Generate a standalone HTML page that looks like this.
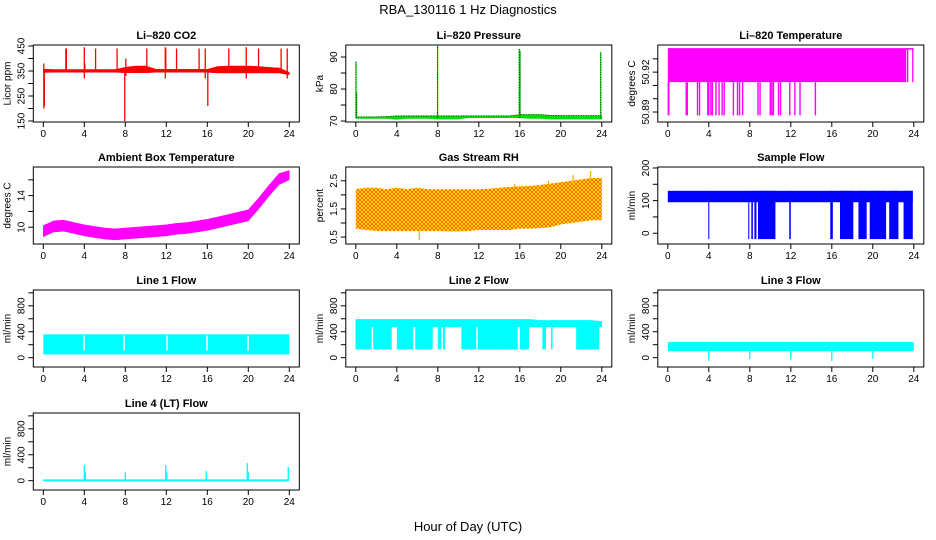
<!DOCTYPE html>
<html><head><meta charset="utf-8">
<style>
html,body{margin:0;padding:0;background:#fff;}
svg{display:block;font-family:"Liberation Sans",sans-serif;}
</style></head>
<body>
<svg id="chart" width="936" height="540" viewBox="0 0 936 540" xmlns="http://www.w3.org/2000/svg">
<defs>
<pattern id="rhpat" width="4" height="4" patternUnits="userSpaceOnUse">
<rect width="4" height="4" fill="#ffe000"/>
<path d="M0,0 L4,4 M4,0 L0,4" stroke="#ff3000" stroke-width="0.6"/>
</pattern>
</defs>
<text x="468" y="14" text-anchor="middle" font-size="13">RBA_130116  1 Hz Diagnostics</text>
<text x="468" y="531" text-anchor="middle" font-size="13">Hour of Day (UTC)</text>
</svg>
<script>
// ---------- data ----------
const hours = [0,1,2,3,4,5,6,7,8,9,10,11,12,13,14,15,16,17,18,19,20,21,22,23,24];
const xTicks = [0,4,8,12,16,20,24];

const co2Lo = [344,345,345,345,345,345,345,345,343,343,343,345,345,345,345,345,345,342,342,342,342,342,342,342,335];
const co2Hi = [358,356,356,356,356,356,356,356,365,370,370,357,357,357,357,357,357,368,370,370,370,368,365,362,345];
const co2SpikeT = [0.05,0.1,2.2,2.25,4.0,4.05,5.1,7.2,7.95,8.05,10.1,11.9,11.95,13.0,15.2,15.8,16.05,18.1,19.8,21.0,23.2,23.8];
const co2SpikeLo = [200,210,350,350,320,350,350,350,150,330,350,320,350,350,350,320,210,350,320,350,350,320];
const co2SpikeHi = [380,350,440,440,445,380,440,440,350,400,440,445,440,440,440,440,350,440,445,440,440,440];

const presLo = [70.8,70.8,70.8,70.8,70.5,70.8,70.8,70.8,70.6,70.6,70.6,71,71,71,71,71,71,70.8,70.8,70.6,70.6,70.6,70.6,70.6,70.6];
const presHi = [71.3,71.3,71.3,71.4,71.6,71.6,71.6,71.6,71.6,71.6,71.6,71.6,71.6,71.6,71.6,71.6,72.0,72.0,72.0,71.8,71.7,71.7,71.7,71.7,71.7];
const presSpikeT = [0.02,0.08,7.98,15.95,16.02,23.9];
const presSpikeHi = [88.5,79,93.5,92.5,92,91.5];

const tempTop = 50.9375, tempMid = 50.9125, tempLow = 50.8875;
const tempDropT = [0.05,0.1,1.8,1.9,2.9,3.1,3.9,4.0,4.2,4.35,4.7,5.0,5.3,5.5,6.4,6.8,7.0,7.3,8.8,9.0,10.0,10.15,10.3,10.8,11.0,11.9,12.4,12.9,14.4];
const tempEndT = [23.2,23.4,23.9];

const ambMid = [9.5,10.1,10.2,9.9,9.6,9.4,9.2,9.1,9.2,9.3,9.4,9.5,9.6,9.8,9.9,10.1,10.3,10.6,10.9,11.2,11.5,13.0,14.6,16.1,16.6];
const ambHalf = [0.7,0.7,0.7,0.7,0.7,0.7,0.7,0.7,0.7,0.7,0.7,0.7,0.7,0.7,0.7,0.7,0.7,0.7,0.7,0.7,0.7,0.7,0.7,0.7,0.6];

const rhLo = [0.8,0.75,0.72,0.72,0.72,0.72,0.72,0.72,0.72,0.7,0.7,0.72,0.75,0.75,0.75,0.75,0.8,0.8,0.82,0.85,0.95,1.0,1.05,1.1,1.1];
const rhHi = [2.2,2.25,2.25,2.2,2.25,2.2,2.25,2.2,2.2,2.2,2.2,2.2,2.2,2.22,2.25,2.28,2.3,2.32,2.35,2.4,2.45,2.5,2.55,2.6,2.6];
const rhSpikeT = [6.2,22.9,21.2,15.5,18.8];
const rhSpikeLo = [0.4,2.5,2.4,2.2,2.3];
const rhSpikeHi = [0.8,2.85,2.7,2.4,2.5];

const sfLo = 95, sfHi = 130, sfBottom = -18;
const sfDropStart = [3.95,7.85,8.15,8.45,8.8,11.85,15.85,16.8,18.6,19.7,21.6,23.0];
const sfDropEnd   = [4.05,7.95,8.3,8.65,10.5,12.0,16.1,18.1,19.4,21.3,22.5,23.9];

const l1Lo = 50, l1Hi = 360;
const l1GapT = [3.9,7.8,12.0,15.9,19.9];

const l2Hi = [590,590,590,590,590,590,590,590,590,590,590,590,590,590,590,590,590,590,575,575,575,575,575,575,560];
const l2Lo = 130, l2Mid = 470;
const l2GapStart = [1.55,3.5,5.6,7.5,8.35,8.7,11.75,15.8,16.9,18.55,19.2,23.75];
const l2GapEnd   = [1.7,4.0,5.8,8.0,8.5,10.3,11.9,16.0,18.2,19.05,21.5,24.05];

const l3Lo = 100, l3Hi = 240;
const l3SpikeT = [4,8,12,16,20];
const l3SpikeLo = [-50,-20,-30,-50,-20];

const l4Lo = -10, l4Hi = 20;
const l4SpikeT = [0.05,4.0,4.1,8.0,11.95,12.05,15.9,19.9,20.0,23.9];
const l4SpikeHi = [20,240,130,130,240,130,150,270,130,210];

// ---------- layout ----------
const NS = "http://www.w3.org/2000/svg";
const svg = document.getElementById("chart");
const colX0 = [43.3, 355.8, 667.8];
const pxHr = 10.25;
const rowTop = [45, 167, 290, 413];
const H = 77;

function mk(tag, attrs, parent, name) {
  const el = document.createElementNS(NS, tag);
  for (const k in attrs) el.setAttribute(k, attrs[k]);
  
  
  (parent || svg).appendChild(el);
  return el;
}

function panel(col, row, key, title, ytitle, ymin, ymax, ticks, labels) {
  const g = mk("g", {}, svg, key + "-panel");
  const left = colX0[col] - 10, right = colX0[col] + 24 * pxHr + 10;
  const top = rowTop[row], bot = top + H;
  const X = h => colX0[col] + h * pxHr;
  const Y = v => top + (ymax - v) / (ymax - ymin) * H;
  const plot = mk("g", {}, g, key + "-plot-area");
  const t = mk("text", {x: (left + right) / 2, y: top - 6, "text-anchor": "middle", "font-size": 11, "font-weight": "bold"}, g, key + "-title");
  t.textContent = title;
  mk("rect", {x: left, y: top, width: right - left, height: H, fill: "none", stroke: "#000", "stroke-width": 1}, g, key + "-frame");
  for (const h of xTicks) {
    mk("line", {x1: X(h), x2: X(h), y1: bot, y2: bot + 5, stroke: "#000"}, g, key + "-x-tick");
    const lb = mk("text", {x: X(h), y: bot + 15, "text-anchor": "middle", "font-size": 10}, g, key + "-x-tick-label");
    lb.textContent = String(h);
  }
  for (const v of ticks) {
    mk("line", {x1: left, x2: left - 5, y1: Y(v), y2: Y(v), stroke: "#000"}, g, key + "-y-tick");
  }
  for (const v of labels) {
    const lx = left - 9, ly = Y(v);
    const lb = mk("text", {x: lx, y: ly, "text-anchor": "middle", "font-size": 10, transform: `rotate(-90 ${lx} ${ly})`}, g, key + "-y-tick-label");
    lb.textContent = String(v);
  }
  const tx = left - 23, ty = (top + bot) / 2;
  const yt = mk("text", {x: tx, y: ty, "text-anchor": "middle", "font-size": 10, transform: `rotate(-90 ${tx} ${ty})`}, g, key + "-y-axis-title");
  yt.textContent = ytitle;
  const cp = mk("clipPath", {id: key + "-clip"}, g, key + "-clip");
  mk("rect", {x: left, y: top, width: right - left, height: H}, cp, key + "-clip-rect");
  plot.setAttribute("clip-path", `url(#${key}-clip)`);
  return {plot, X, Y};
}

function band(p, ts, lo, hi, fill, name) {
  let d = "";
  ts.forEach((t, i) => { d += (i ? "L" : "M") + p.X(t).toFixed(1) + "," + p.Y(hi[i]).toFixed(1); });
  for (let i = ts.length - 1; i >= 0; i--) d += "L" + p.X(ts[i]).toFixed(1) + "," + p.Y(lo[i]).toFixed(1);
  return mk("path", {d: d + "Z", fill: fill, stroke: fill === "url(#rhpat)" ? "none" : fill, "stroke-width": 0.5}, p.plot, name);
}
function vline(p, t, a, b, color, name, w) {
  return mk("line", {x1: p.X(t), x2: p.X(t), y1: p.Y(a), y2: p.Y(b), stroke: color, "stroke-width": w || 1.2}, p.plot, name);
}
function block(p, t0, t1, a, b, color, name) {
  return mk("rect", {x: p.X(t0), y: p.Y(b), width: Math.max(1, p.X(t1) - p.X(t0)), height: p.Y(a) - p.Y(b), fill: color}, p.plot, name);
}
const fill = n => new Array(25).fill(n);

{
  const p = panel(0, 0, "co2", "Li\u2013820 CO2", "Licor ppm", 146, 454, [150,200,250,300,350,400,450], [150,250,350,450]);
  band(p, hours, co2Lo, co2Hi, "#ff0000", "co2-band");
  co2SpikeT.forEach((t, i) => vline(p, t, co2SpikeLo[i], co2SpikeHi[i], "#ff0000", "co2-spike", 1.3));
}
{
  const p = panel(1, 0, "pres", "Li\u2013820 Pressure", "kPa", 69.7, 93.75, [70,75,80,85,90], [70,80,90]);
  band(p, hours, presLo, presHi, "#00dd00", "pressure-band");
  let d = "";
  hours.forEach((t, i) => { d += (i ? "L" : "M") + p.X(t) + "," + p.Y(presHi[i]); });
  mk("path", {d: d, fill: "none", stroke: "#000", "stroke-width": 0.8, "stroke-dasharray": "1,1.5"}, p.plot, "pressure-mean-line");
  presSpikeT.forEach((t, i) => {
    vline(p, t, 71, presSpikeHi[i], "#00dd00", "pressure-spike", 1.3);
    mk("line", {x1: p.X(t), x2: p.X(t), y1: p.Y(71), y2: p.Y(presSpikeHi[i]), stroke: "#000", "stroke-width": 0.8, "stroke-dasharray": "1,1.5"}, p.plot, "pressure-spike-dots");
  });
}
{
  const p = panel(2, 0, "ltemp", "Li\u2013820 Temperature", "degrees C", 50.8825, 50.9404, [50.89,50.90,50.91,50.92,50.93], [50.89,50.92]);
  block(p, 0, tempEndT[0], tempMid, tempTop, "#ff00ff", "temperature-block");
  mk("line", {x1: p.X(0), x2: p.X(24), y1: p.Y(tempTop), y2: p.Y(tempTop), stroke: "#ff00ff", "stroke-width": 1.5}, p.plot, "temperature-top-line");
  tempEndT.forEach(t => vline(p, t, tempMid, tempTop, "#ff00ff", "temperature-end-bar", 1.3));
  tempDropT.forEach(t => vline(p, t, tempLow, tempMid, "#ff00ff", "temperature-drop", 1.4));
}
{
  const p = panel(0, 1, "amb", "Ambient Box Temperature", "degrees C", 7.875, 17.625, [10,12,14,16], [10,14]);
  band(p, hours, ambMid.map((m, i) => m - ambHalf[i]), ambMid.map((m, i) => m + ambHalf[i]), "#ff00ff", "ambient-band");
}
{
  const p = panel(1, 1, "rh", "Gas Stream RH", "percent", 0.254, 2.99, [0.5,1.0,1.5,2.0,2.5], [0.5,1.5,2.5]);
  band(p, hours, rhLo, rhHi, "url(#rhpat)", "rh-band");
  rhSpikeT.forEach((t, i) => vline(p, t, rhSpikeLo[i], rhSpikeHi[i], "#ffb000", "rh-spike", 1.3));
}
{
  const p = panel(2, 1, "sf", "Sample Flow", "ml/min", -33, 203, [0,50,100,150,200], [0,100,200]);
  block(p, 0, 23.9, sfLo, sfHi, "#0000ff", "sample-flow-band");
  sfDropStart.forEach((s, i) => block(p, s, sfDropEnd[i], sfBottom, sfHi, "#0000ff", "sample-flow-drop"));
}
const flowTicks = [0,200,400,600,800,1000], flowLabels = [0,400,800];
{
  const p = panel(0, 2, "l1", "Line 1 Flow", "ml/min", -144, 1044, flowTicks, flowLabels);
  block(p, 0, 24, l1Lo, l1Hi, "#00ffff", "line1-band");
  l1GapT.forEach(t => block(p, t, t + 0.15, l1Lo + 60, l1Hi - 20, "#ffffff", "line1-gap"));
}
{
  const p = panel(1, 2, "l2", "Line 2 Flow", "ml/min", -144, 1044, flowTicks, flowLabels);
  band(p, hours, fill(l2Lo), l2Hi, "#00ffff", "line2-band");
  l2GapStart.forEach((s, i) => block(p, s, l2GapEnd[i], l2Lo - 20, l2Mid, "#ffffff", "line2-gap"));
}
{
  const p = panel(2, 2, "l3", "Line 3 Flow", "ml/min", -144, 1044, flowTicks, flowLabels);
  block(p, 0, 24, l3Lo, l3Hi, "#00ffff", "line3-band");
  l3SpikeT.forEach((t, i) => vline(p, t, l3SpikeLo[i], l3Lo, "#00ffff", "line3-spike", 1.3));
}
{
  const p = panel(0, 3, "l4", "Line 4 (LT) Flow", "ml/min", -144, 1044, flowTicks, flowLabels);
  block(p, 0, 24, l4Lo, l4Hi, "#00ffff", "line4-band");
  l4SpikeT.forEach((t, i) => vline(p, t, 0, l4SpikeHi[i], "#00ffff", "line4-spike", 1.4));
}
</script>
</body></html>
